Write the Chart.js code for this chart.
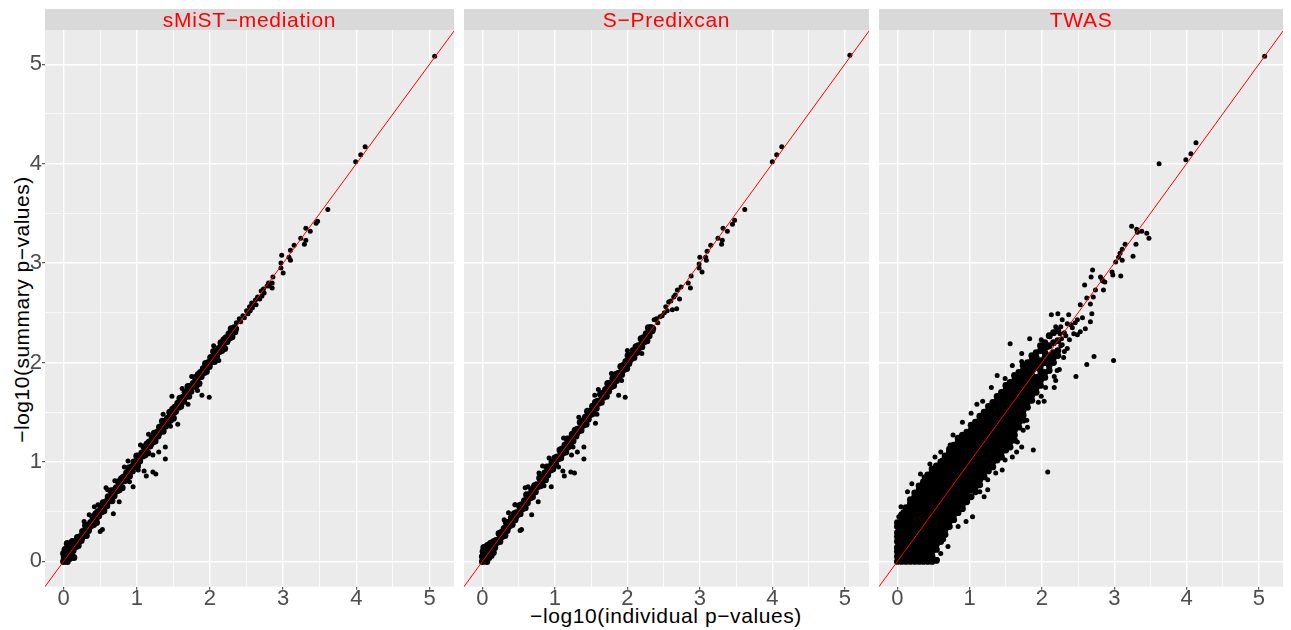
<!DOCTYPE html>
<html lang="en">
<head>
<meta charset="utf-8">
<title>Summary vs individual p-values</title>
<script src="https://cdn.jsdelivr.net/npm/chart.js@4.4.1/dist/chart.umd.min.js"></script>
<style>
  html, body { margin: 0; padding: 0; background: #fff; }
  body { position: relative; width: 1291px; height: 630px; overflow: hidden;
         font-family: "Liberation Sans", Arial, sans-serif; }
  canvas { position: absolute; top: 0; }
  .axis-title { position: absolute; font-size: 21px; line-height: 21px; color: #000;
                white-space: nowrap; text-align: center; }
  #xTitle { left: 366px; top: 604.5px; width: 600px; letter-spacing: 0.6px; }
  #yTitle { left: -179px; top: 298.5px; width: 400px; letter-spacing: 0.5px; transform: rotate(-90deg); }
</style>
</head>
<body>
<div id="xTitle" class="axis-title">−log10(individual p−values)</div>
<div id="yTitle" class="axis-title">−log10(summary p−values)</div>
<script>
(() => {
  // axis limits (ggplot default 5% expansion around the data)
  const xMin = -0.254, xMax = 5.334;
  const yMin = -0.2545, yMax = 5.3445;
  const majorBreaks = [0, 1, 2, 3, 4, 5];
  const minorBreaks = [0.5, 1.5, 2.5, 3.5, 4.5];
  const breakLabels = ['0', '1', '2', '3', '4', '5'];
  const panelTitles = ['sMiST−mediation', 'S−Predixcan', 'TWAS'];
  const identityLine = [-1, 6];   // y = x reference

  // [individual, summary] -log10 p-values
  // sMiST: the overplotted band along the diagonal
  const smistBand = [
    [0.00,0.00],[0.01,0.04],[0.00,0.08],[0.02,0.12],[0.03,0.02],[0.05,0.00],[0.04,0.07],[0.06,0.14],[0.05,0.18],[0.08,0.03],[0.09,0.09],[0.10,0.16],[0.11,0.06],[0.12,0.20],[0.13,0.11],[0.14,0.04],[0.15,0.15],
    [0.16,0.19],[0.17,0.15],[0.19,0.24],[0.20,0.16],[0.23,0.25],[0.24,0.21],[0.26,0.30],[0.27,0.26],[0.30,0.36],[0.31,0.26],[0.33,0.36],[0.34,0.31],[0.37,0.39],[0.38,0.36],[0.40,0.45],[0.41,0.37],[0.44,0.48],[0.45,0.39],[0.47,0.50],[0.48,0.46],
    [0.51,0.54],[0.52,0.50],[0.54,0.59],[0.55,0.51],[0.58,0.60],[0.59,0.56],[0.61,0.65],[0.62,0.61],[0.65,0.71],[0.66,0.61],[0.68,0.71],[0.69,0.66],[0.72,0.74],[0.73,0.71],[0.75,0.80],[0.76,0.72],[0.79,0.83],[0.80,0.74],[0.82,0.85],[0.83,0.81],
    [0.86,0.89],[0.87,0.85],[0.89,0.94],[0.90,0.86],[0.93,0.95],[0.94,0.91],[0.96,1.00],[0.97,0.96],[1.00,1.06],[1.01,0.96],[1.03,1.06],[1.04,1.01],[1.07,1.09],[1.08,1.06],[1.10,1.15],[1.11,1.07],[1.14,1.18],[1.15,1.09],[1.17,1.20],[1.18,1.16],
    [1.21,1.24],[1.22,1.20],[1.24,1.29],[1.25,1.21],[1.28,1.30],[1.29,1.26],[1.31,1.35],[1.32,1.31],[1.35,1.41],[1.36,1.31],[1.38,1.41],[1.39,1.36],[1.42,1.44],[1.43,1.41],[1.45,1.50],[1.46,1.42],[1.49,1.53],[1.50,1.44],[1.52,1.55],[1.53,1.51],
    [1.56,1.59],[1.57,1.55],[1.59,1.64],[1.60,1.56],[1.63,1.65],[1.64,1.61],[1.66,1.70],[1.67,1.66],[1.70,1.76],[1.71,1.66],[1.73,1.76],[1.74,1.71],[1.77,1.79],[1.78,1.76],[1.80,1.85],[1.81,1.77],[1.84,1.88],[1.85,1.79],[1.87,1.90],[1.88,1.86],
    [1.91,1.94],[1.92,1.90],[1.94,1.99],[1.95,1.91],[1.98,2.00],[1.99,1.96],[2.01,2.05],[2.02,2.01],[2.05,2.11],[2.06,2.01],[2.08,2.11],[2.09,2.06],[2.12,2.14],[2.13,2.11],[2.15,2.20],[2.16,2.12],[2.19,2.23],[2.20,2.14],[2.22,2.25],[2.23,2.21],
    [2.26,2.29],[2.27,2.25],[2.29,2.34],[2.30,2.26],[2.33,2.35],[2.34,2.31],
    [0.18,0.18],[0.21,0.22],[0.25,0.24],[0.28,0.29],[0.32,0.32],[0.35,0.34],[0.39,0.39],[0.42,0.43],[0.46,0.45],[0.49,0.50],[0.53,0.53],[0.56,0.55],[0.60,0.60],[0.63,0.64],[0.67,0.66],[0.70,0.71],
    [0.74,0.74],[0.77,0.76],[0.81,0.81],[0.84,0.85],[0.88,0.87],[0.91,0.92],[0.95,0.95],[0.98,0.97],[1.02,1.02],[1.05,1.06],[1.09,1.08],[1.12,1.13],[1.16,1.16],[1.19,1.18],[1.23,1.23],[1.26,1.27],
    [1.30,1.29],[1.33,1.34],[1.37,1.37],[1.40,1.39],[1.44,1.44],[1.47,1.48],[1.51,1.50],[1.54,1.55],[1.58,1.58],[1.61,1.60],[1.65,1.65],[1.68,1.69],[1.72,1.71],[1.75,1.76],[1.79,1.79],[1.82,1.81],
    [1.86,1.86],[1.89,1.90],[1.93,1.92],[1.96,1.97],[2.00,2.00],[2.03,2.02],[2.07,2.07],[2.10,2.11],[2.14,2.13],[2.17,2.18],[2.21,2.21],[2.24,2.23],[2.28,2.28],[2.31,2.32],[2.35,2.34]
  ];
  // sMiST: ragged edge, off-diagonal genes and the sparse upper tail
  const smistPoints = [
    [0.28,0.40],[0.42,0.55],[0.60,0.72],[0.70,0.81],[0.88,1.01],[1.05,1.17],[1.16,1.28],[1.36,1.48],[1.62,1.74],[1.75,1.86],[2.05,2.17],[0.90,0.80],[1.02,0.92],[1.46,1.36],[1.70,1.58],[1.83,1.72],[2.12,2.02],
    [0.35,0.47],[0.47,0.57],[0.58,0.74],[0.83,0.95],[1.48,1.66],[0.50,0.30],[0.53,0.32],[0.68,0.48],[0.76,0.60],[0.95,0.75],[1.10,0.91],[1.13,0.86],[1.22,0.90],[1.26,0.88],[1.22,1.07],[1.30,1.10],[1.39,1.15],[1.39,1.03],[1.56,1.38],[1.89,1.67],[1.99,1.65],
    [2.36,2.40],[2.40,2.44],[2.42,2.41],[2.45,2.47],[2.47,2.45],[2.50,2.52],[2.52,2.49],[2.54,2.56],[2.55,2.52],[2.57,2.60],[2.58,2.55],[2.60,2.58],[2.62,2.63],[2.63,2.58],[2.65,2.66],[2.68,2.64],[2.70,2.72],[2.71,2.67],[2.73,2.74],[2.74,2.70],
    [2.78,2.77],[2.80,2.80],[2.81,2.77],[2.85,2.75],[2.85,2.80],[2.86,2.86],[2.97,2.95],[3.00,2.90],[2.97,3.00],[3.10,3.03],[2.98,3.08],[3.08,3.06],[3.10,3.13],[3.15,3.18],[3.29,3.19],[3.31,3.23],[3.24,3.25],[3.31,3.35],[3.37,3.32],[3.45,3.40],
    [3.47,3.42],[3.61,3.54],[3.99,4.02],[4.06,4.09],[4.12,4.17],[5.07,5.08]
  ];

  const predixcanBand = [
    [0.00,0.00],[0.00,0.05],[0.01,0.10],[0.02,0.14],[0.03,0.02],[0.05,0.07],[0.06,0.00],[0.04,0.12],[0.07,0.16],[0.09,0.04],[0.10,0.10],[0.11,0.18],[0.12,0.06],[0.13,0.13],[0.15,0.09],[0.14,0.19],
    [0.16,0.20],[0.17,0.14],[0.19,0.21],[0.20,0.19],[0.23,0.28],[0.24,0.20],[0.26,0.29],[0.27,0.25],[0.30,0.33],[0.31,0.26],[0.33,0.39],[0.34,0.31],[0.37,0.39],[0.38,0.36],[0.40,0.44],[0.41,0.37],[0.44,0.48],[0.45,0.42],[0.47,0.49],[0.48,0.47],
    [0.51,0.56],[0.52,0.48],[0.54,0.57],[0.55,0.53],[0.58,0.61],[0.59,0.54],[0.61,0.67],[0.62,0.59],[0.65,0.67],[0.66,0.64],[0.68,0.72],[0.69,0.65],[0.72,0.76],[0.73,0.70],[0.75,0.77],[0.76,0.75],[0.79,0.84],[0.80,0.76],[0.82,0.85],[0.83,0.81],
    [0.86,0.89],[0.87,0.82],[0.89,0.95],[0.90,0.87],[0.93,0.95],[0.94,0.92],[0.96,1.00],[0.97,0.93],[1.00,1.04],[1.01,0.98],[1.03,1.05],[1.04,1.03],[1.07,1.12],[1.08,1.04],[1.10,1.13],[1.11,1.09],[1.14,1.17],[1.15,1.10],[1.17,1.23],[1.18,1.15],
    [1.21,1.23],[1.22,1.20],[1.24,1.28],[1.25,1.21],[1.28,1.32],[1.29,1.26],[1.31,1.33],[1.32,1.31],[1.35,1.40],[1.36,1.32],[1.38,1.41],[1.39,1.37],[1.42,1.45],[1.43,1.38],[1.45,1.51],[1.46,1.43],[1.49,1.51],[1.50,1.48],[1.52,1.56],[1.53,1.49],
    [1.56,1.60],[1.57,1.54],[1.59,1.61],[1.60,1.59],[1.63,1.68],[1.64,1.60],[1.66,1.69],[1.67,1.65],[1.70,1.73],[1.71,1.66],[1.73,1.79],[1.74,1.71],[1.77,1.79],[1.78,1.76],[1.80,1.84],[1.81,1.77],[1.84,1.88],[1.85,1.82],[1.87,1.89],[1.88,1.87],
    [1.91,1.96],[1.92,1.88],[1.94,1.97],[1.95,1.93],[1.98,2.01],[1.99,1.94],[2.01,2.07],[2.02,1.99],[2.05,2.07],[2.06,2.04],[2.08,2.12],[2.09,2.05],[2.12,2.16],[2.13,2.10],[2.15,2.17],[2.16,2.15],[2.19,2.24],[2.20,2.16],[2.22,2.25],[2.23,2.21],
    [2.26,2.29],[2.27,2.22],[2.29,2.35],[2.30,2.27],[2.33,2.35],[2.34,2.32],
    [0.18,0.19],[0.21,0.21],[0.25,0.24],[0.28,0.28],[0.32,0.33],[0.35,0.34],[0.39,0.40],[0.42,0.42],[0.46,0.45],[0.49,0.49],[0.53,0.54],[0.56,0.55],[0.60,0.61],[0.63,0.63],[0.67,0.66],[0.70,0.70],
    [0.74,0.75],[0.77,0.76],[0.81,0.82],[0.84,0.84],[0.88,0.87],[0.91,0.91],[0.95,0.96],[0.98,0.97],[1.02,1.03],[1.05,1.05],[1.09,1.08],[1.12,1.12],[1.16,1.17],[1.19,1.18],[1.23,1.24],[1.26,1.26],
    [1.30,1.29],[1.33,1.33],[1.37,1.38],[1.40,1.39],[1.44,1.45],[1.47,1.47],[1.51,1.50],[1.54,1.54],[1.58,1.59],[1.61,1.60],[1.65,1.66],[1.68,1.68],[1.72,1.71],[1.75,1.75],[1.79,1.80],[1.82,1.81],
    [1.86,1.87],[1.89,1.89],[1.93,1.92],[1.96,1.96],[2.00,2.01],[2.03,2.02],[2.07,2.08],[2.10,2.10],[2.14,2.13],[2.17,2.17],[2.21,2.22],[2.24,2.23],[2.28,2.29],[2.31,2.31],[2.35,2.34]
  ];
  const predixcanPoints = [
    [0.30,0.42],[0.45,0.57],[0.63,0.75],[0.78,0.89],[0.92,1.04],[1.12,1.24],[1.33,1.45],[1.55,1.67],[1.78,1.89],[2.00,2.12],[0.85,0.76],[1.05,0.95],[1.25,1.15],[1.58,1.48],[1.92,1.82],[2.20,2.09],
    [1.97,1.65],[1.88,1.67],[1.60,1.73],[1.56,1.39],[1.40,1.15],[1.31,1.10],[1.23,1.07],[1.40,1.03],[1.11,0.91],[1.13,0.86],[1.22,0.90],[1.27,0.89],[0.95,0.75],[0.83,0.96],[0.68,0.47],[0.77,0.60],[0.59,0.74],[0.54,0.32],[0.52,0.31],[0.45,0.57],[0.36,0.49],
    [2.32,2.36],[2.37,2.43],[2.40,2.44],[2.42,2.40],[2.45,2.46],[2.48,2.47],[2.51,2.50],[2.53,2.56],[2.55,2.52],[2.57,2.61],[2.60,2.62],[2.62,2.53],[2.64,2.66],[2.66,2.68],[2.68,2.54],[2.69,2.73],[2.72,2.64],[2.74,2.76],[2.84,2.80],[2.87,2.75],
    [2.88,2.87],[2.99,2.99],[2.99,2.95],[3.03,2.91],[3.00,3.06],[3.08,3.06],[3.09,3.03],[3.10,3.12],[3.15,3.18],[3.30,3.19],[3.31,3.23],[3.25,3.25],[3.32,3.35],[3.38,3.32],[3.45,3.39],[3.48,3.43],[3.62,3.54],[4.00,4.02],[4.06,4.09],[4.13,4.17],
    [5.07,5.09]
  ];

  // TWAS: scattered points outside the dense core
  const twasPoints = [
    [5.08,5.08],[4.13,4.21],[4.06,4.10],[3.99,4.04],[3.62,4.00],
    [3.24,3.37],[3.31,3.34],[3.38,3.32],[3.45,3.30],[3.48,3.25],[3.32,3.31],[3.15,3.19],[3.30,3.19],[3.11,3.14],[3.08,3.10],[3.26,3.07],[3.11,3.03],[3.06,3.06],[3.02,3.01],
    [2.70,2.93],[2.68,2.86],[2.81,2.86],[2.97,2.91],[2.98,2.88],[3.09,2.87],[2.87,2.81],[2.84,2.82],[2.83,2.84],[2.59,2.78],[2.74,2.73],[2.85,2.73],[2.62,2.65],[2.71,2.66],
    [2.67,2.59],[2.69,2.49],[2.67,2.41],[2.53,2.58],[2.13,2.48],[2.22,2.49],[2.37,2.48],[2.49,2.43],[2.18,2.31],[2.26,2.36],[2.31,2.30],[2.44,2.29],[2.53,2.31],[2.40,2.38],[2.35,2.39],[2.28,2.43],[2.19,2.36],[2.25,2.29],
    [2.60,2.34],[2.49,2.28],[2.38,2.23],[2.28,2.18],[2.31,2.11],[2.27,2.24],[2.33,2.27],[2.42,2.35],[2.46,2.40],[2.56,2.45],
    [2.11,2.26],[1.99,2.23],[1.83,2.24],[1.56,2.19],[1.72,2.09],[1.90,2.04],
    [2.72,2.06],[2.62,1.98],[2.47,1.86],[2.99,2.02],[2.17,1.86],[2.24,1.93],[2.17,1.75],[1.99,1.66],[2.03,1.61],[2.19,1.82],[2.21,1.92],[2.26,2.17],[2.08,2.15],[2.12,2.01],[2.30,2.05],[2.35,2.14],
    [0.14,0.70],[0.37,0.85],[0.08,0.50],[0.02,0.45],[0.05,0.55],[0.20,0.78],[0.32,0.88],[0.45,0.98],[0.52,1.05],[0.62,1.02],[0.60,1.10],[0.73,1.17],[0.77,1.27],[0.90,1.40],[1.02,1.49],[1.10,1.58],
    [1.18,1.61],[1.30,1.75],[1.38,1.87],[1.49,1.84],[1.59,1.97],[1.72,2.01],[1.88,2.06],
    [2.08,0.90],[1.88,1.12],[1.72,1.15],[1.59,1.05],[1.49,1.02],[1.36,0.89],[1.25,0.72],[1.25,0.82],[1.14,0.70],[1.04,0.45],[0.95,0.40],[0.84,0.35],[0.70,0.15],[0.64,0.22],[0.60,0.08],[0.55,0.02],
    [1.20,0.65],[1.45,0.92],[1.65,1.10],[1.66,1.20],[1.80,1.35],[1.74,1.32],[1.79,1.42],[1.95,1.60],[2.05,1.75]
  ];

  // TWAS dense core, read column by column (x, then the summary values in that column)
  const twasCoreX = [0.00,0.06,0.12,0.18,0.24,0.30,0.36,0.42,0.48,0.54,0.60,0.66,0.72,0.78,0.84,0.90,0.96,1.02,1.08,1.14,
                     1.20,1.26,1.32,1.38,1.44,1.50,1.56,1.62,1.68,1.74,1.80,1.86,1.92,1.98,2.04,2.10,2.16,2.22];
  const twasCoreY = [
    [0.00,0.05,0.10,0.14,0.20,0.25,0.29,0.35,0.39],
    [0.00,0.03,0.07,0.12,0.18,0.22,0.27,0.33,0.37,0.42,0.47],
    [0.00,0.05,0.11,0.15,0.20,0.26,0.30,0.35,0.41,0.45,0.50,0.54],
    [0.00,0.02,0.07,0.13,0.17,0.22,0.28,0.32,0.37,0.43,0.47,0.52,0.58,0.62],
    [0.00,0.05,0.10,0.16,0.20,0.25,0.31,0.35,0.40,0.46,0.50,0.55,0.61,0.65,0.69],
    [0.00,0.03,0.07,0.12,0.18,0.22,0.27,0.33,0.37,0.42,0.48,0.52,0.57,0.63,0.67,0.72,0.76],
    [0.00,0.05,0.10,0.14,0.20,0.25,0.30,0.36,0.40,0.45,0.50,0.54,0.60,0.65,0.70,0.75,0.80],
    [0.00,0.02,0.07,0.12,0.17,0.23,0.27,0.32,0.38,0.42,0.47,0.52,0.57,0.63,0.67,0.72,0.77,0.82,0.87],
    [0.00,0.05,0.10,0.15,0.21,0.25,0.30,0.35,0.40,0.46,0.50,0.55,0.60,0.64,0.70,0.75,0.80,0.85,0.90,0.93],
    [0.01,0.12,0.17,0.22,0.27,0.33,0.37,0.42,0.47,0.52,0.58,0.62,0.67,0.72,0.77,0.83,0.87,0.92,0.96],
    [0.20,0.25,0.30,0.35,0.41,0.45,0.50,0.55,0.60,0.66,0.70,0.75,0.80,0.85,0.90,0.96,1.00],
    [0.27,0.32,0.37,0.42,0.47,0.53,0.57,0.62,0.67,0.72,0.78,0.82,0.87,0.92,0.97,1.02,1.06],
    [0.35,0.40,0.45,0.50,0.55,0.60,0.65,0.71,0.75,0.80,0.85,0.90,0.95,1.00,1.05,1.10,1.13],
    [0.42,0.47,0.52,0.57,0.62,0.67,0.72,0.77,0.82,0.88,0.92,0.97,1.02,1.07,1.12,1.17],
    [0.49,0.55,0.60,0.64,0.70,0.75,0.80,0.86,0.90,0.95,1.00,1.05,1.11,1.15,1.20,1.24],
    [0.53,0.57,0.62,0.67,0.72,0.77,0.83,0.87,0.92,0.97,1.02,1.07,1.12,1.17,1.22,1.27],
    [0.60,0.65,0.70,0.75,0.81,0.85,0.90,0.95,1.00,1.05,1.10,1.15,1.20,1.25,1.30],
    [0.65,0.72,0.77,0.82,0.87,0.92,0.97,1.02,1.07,1.12,1.17,1.22,1.27,1.32,1.37],
    [0.70,0.75,0.80,0.85,0.90,0.96,1.00,1.05,1.10,1.15,1.20,1.25,1.30,1.35,1.40],
    [0.77,0.82,0.87,0.92,0.97,1.02,1.07,1.12,1.17,1.22,1.27,1.32,1.37,1.42,1.46],
    [0.85,0.90,0.95,1.00,1.05,1.10,1.15,1.20,1.25,1.30,1.35,1.40,1.45,1.50],
    [0.91,0.97,1.02,1.07,1.12,1.17,1.22,1.27,1.32,1.37,1.42,1.47,1.52,1.56],
    [0.95,1.00,1.05,1.10,1.15,1.20,1.25,1.30,1.35,1.40,1.45,1.50,1.55,1.60],
    [1.02,1.07,1.12,1.17,1.22,1.27,1.32,1.37,1.42,1.47,1.52,1.57,1.62,1.66],
    [1.05,1.10,1.15,1.20,1.25,1.30,1.35,1.40,1.45,1.50,1.55,1.60,1.65,1.70],
    [1.12,1.17,1.22,1.27,1.32,1.37,1.42,1.47,1.52,1.57,1.62,1.67,1.72,1.77],
    [1.15,1.20,1.25,1.30,1.35,1.40,1.45,1.50,1.55,1.60,1.65,1.70,1.75,1.80],
    [1.22,1.27,1.32,1.37,1.42,1.47,1.52,1.57,1.62,1.67,1.72,1.77,1.82,1.87],
    [1.35,1.40,1.45,1.50,1.55,1.60,1.65,1.70,1.75,1.80,1.85,1.90],
    [1.42,1.47,1.52,1.57,1.62,1.67,1.72,1.77,1.82,1.87,1.92,1.97],
    [1.55,1.60,1.65,1.70,1.75,1.80,1.85,1.90,1.95,2.00],
    [1.62,1.67,1.72,1.77,1.82,1.87,1.92,1.97,2.02,2.07],
    [1.70,1.75,1.80,1.85,1.95,2.00,2.05,2.10],
    [1.77,1.82,1.87,1.92,1.97,2.02,2.12,2.17],
    [1.85,1.90,2.00,2.05,2.10,2.15,2.20],
    [1.92,1.97,2.02,2.07,2.17,2.27],
    [2.00,2.05,2.10,2.20,2.30],
    [2.07,2.12,2.22,2.32]
  ];

  // panel geometry: canvas left, canvas width, y-axis strip width
  const PANELS = [
    { left: 0, width: 458, axisW: 45 },
    { left: 460, width: 413, axisW: 0 },
    { left: 875, width: 412, axisW: 0 }
  ];
  const CANVAS_H = 630, PANEL_TOP = 30, X_AXIS_H = 43.3, STRIP_TOP = 9;
  // overplotted clouds are drawn a touch larger so the heavy overlap reads as solid black
  const POINT_R = 2.5, BAND_R = 3.5, CORE_R = 3.4;

  Chart.defaults.font.family = '"Liberation Sans", Arial, sans-serif';

  const isMajor = v => majorBreaks.includes(v);
  function setBreaks(scale) {
    scale.ticks = majorBreaks.concat(minorBreaks).sort((a, b) => a - b).map(v => ({ value: v }));
  }
  function breakLabel(v) {
    const i = majorBreaks.indexOf(v);
    return i < 0 ? '' : breakLabels[i];
  }
  function gridOpts(drawTicks) {
    return {
      color: '#ffffff',
      lineWidth: c => (c.tick && isMajor(c.tick.value)) ? 1.4 : 0.7,
      drawTicks,
      tickLength: 3,
      tickWidth: 1,
      tickColor: c => (c.tick && isMajor(c.tick.value)) ? '#333333' : 'rgba(0,0,0,0)'
    };
  }

  // grey panel background + facet strip
  const panelDecor = {
    id: 'panelDecor',
    beforeDraw(chart, args, opts) {
      const { ctx, chartArea: a } = chart;
      ctx.save();
      ctx.fillStyle = '#ebebeb';
      ctx.fillRect(a.left, a.top, a.width, a.height);
      ctx.fillStyle = '#d9d9d9';
      ctx.fillRect(a.left, STRIP_TOP, a.width, a.top - STRIP_TOP);
      ctx.fillStyle = '#ff0000';
      ctx.font = '21px "Liberation Sans", Arial, sans-serif';
      ctx.letterSpacing = '0.7px';
      ctx.textAlign = 'center';
      ctx.textBaseline = 'alphabetic';
      ctx.fillText(opts.title, a.left + a.width / 2, 27.3);
      ctx.restore();
    }
  };

  const toXY = pts => pts.map(p => ({ x: p[0], y: p[1] }));
  const pointSet = (pts, r, order) => ({
    type: 'scatter', data: toXY(pts), pointRadius: r,
    backgroundColor: '#000000', borderColor: '#000000', borderWidth: 0, order
  });

  function makePanel(idx, pointSets) {
    const p = PANELS[idx];
    const showY = p.axisW > 0;
    const cv = document.createElement('canvas');
    cv.width = p.width; cv.height = CANVAS_H;
    cv.style.left = p.left + 'px';
    cv.style.width = p.width + 'px'; cv.style.height = CANVAS_H + 'px';
    document.body.appendChild(cv);

    return new Chart(cv, {
      type: 'scatter',
      data: {
        datasets: [
          {
            type: 'line',
            data: identityLine.map(v => ({ x: v, y: v })),
            borderColor: '#ff0000',
            borderWidth: 1,
            pointRadius: 0,
            fill: false,
            tension: 0,
            order: 0
          },
          ...pointSets
        ]
      },
      options: {
        responsive: false,
        animation: false,
        events: [],
        layout: { padding: { top: PANEL_TOP, left: 0, right: 0, bottom: 0 } },
        plugins: {
          legend: { display: false },
          tooltip: { enabled: false },
          panelDecor: { title: panelTitles[idx] }
        },
        scales: {
          x: {
            type: 'linear', min: xMin, max: xMax,
            afterBuildTicks: setBreaks,
            afterFit: s => { s.height = X_AXIS_H; },
            grid: gridOpts(true),
            border: { display: false },
            ticks: {
              autoSkip: false, maxRotation: 0, padding: 0, color: '#4d4d4d',
              font: { size: 22, lineHeight: 0.8 }, callback: breakLabel
            }
          },
          y: {
            type: 'linear', min: yMin, max: yMax,
            afterBuildTicks: setBreaks,
            afterFit: s => { s.width = p.axisW; },
            grid: gridOpts(showY),
            border: { display: false },
            ticks: {
              display: showY, autoSkip: false, padding: 0, color: '#4d4d4d',
              font: { size: 22, lineHeight: 1 }, callback: breakLabel
            }
          }
        }
      },
      plugins: [panelDecor]
    });
  }

  const twasCore = [].concat(...twasCoreX.map((x, i) => twasCoreY[i].map(y => [x, y])));

  makePanel(0, [pointSet(smistBand, BAND_R, 2), pointSet(smistPoints, POINT_R, 1)]);
  makePanel(1, [pointSet(predixcanBand, BAND_R, 2), pointSet(predixcanPoints, POINT_R, 1)]);
  makePanel(2, [pointSet(twasCore, CORE_R, 2), pointSet(twasPoints, POINT_R, 1)]);
})();
</script>
</body>
</html>
